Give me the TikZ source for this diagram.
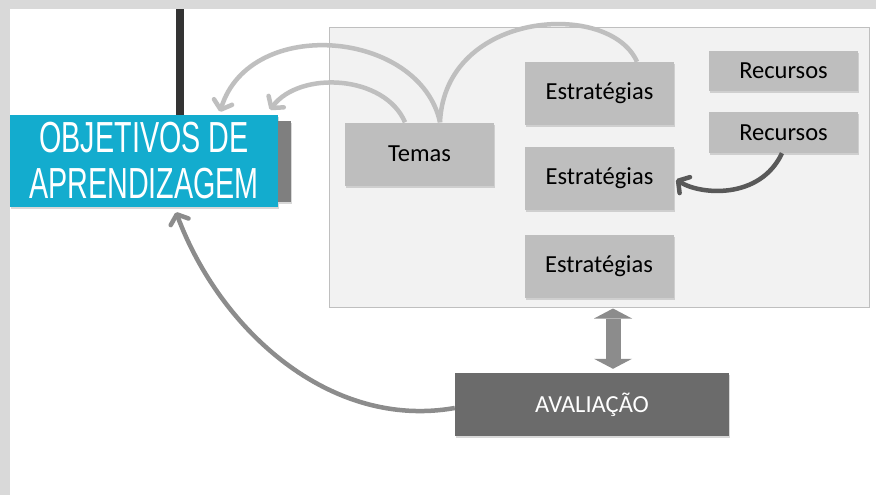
\documentclass[tikz,border=0pt]{standalone}
\usepackage{fontspec}
\setmainfont{Carlito}
\newfontfamily\condfont[FakeStretch=0.66]{Liberation Sans}
\usetikzlibrary{arrows.meta,shadows}
\definecolor{band}{HTML}{D9D9D9}
\definecolor{bar}{HTML}{333333}
\definecolor{objblue}{RGB}{19,172,206}
\definecolor{backgray}{HTML}{7F7F7F}
\definecolor{panelfill}{HTML}{F2F2F2}
\definecolor{boxgray}{HTML}{BEBEBE}
\definecolor{lightlink}{HTML}{BFBFBF}
\definecolor{darklink}{HTML}{595959}
\definecolor{midlink}{HTML}{8C8C8C}
\definecolor{avalgray}{HTML}{6B6B6B}
\begin{document}
\begin{tikzpicture}[x=1pt,y=-1pt,
	shade/.style={drop shadow={opacity=0.3,shadow xshift=1pt,shadow yshift=-2pt}},
	box/.style={shade,fill=boxgray,minimum width=149pt,minimum height=63pt,inner sep=0pt,font=\fontsize{24.5}{28}\selectfont},
	link/.style={line width=4.5pt,lightlink},
	tip/.style={-{Straight Barb[length=8pt,width=19pt,round]}}]
	\useasboundingbox (0,0) rectangle (876,495);
	\fill[white] (0,0) rectangle (876,495);
	\fill[band] (0,0) rectangle (876,9);
	\fill[band] (0,0) rectangle (10,495);
	\fill[bar] (176,9) rectangle (184,120);
	\node[shade,fill=backgray,minimum width=13pt,minimum height=81pt,inner sep=0pt] (0) at (284.5,161.5) {};
	\node[shade,fill=objblue,text=white,minimum width=268pt,minimum height=92pt,inner sep=0pt,align=center,font=\condfont\fontsize{43.5}{46}\selectfont] (1) at (144,161) {OBJETIVOS DE\\APRENDIZAGEM};
	\node[fill=panelfill,draw=lightlink,line width=1pt,minimum width=540pt,minimum height=279pt] (2) at (599,167.5) {};
	\node[box] (3) at (419.5,154) {Temas};
	\node[box] (4) at (599.5,93.5) {Estratégias};
	\node[box] (5) at (599.5,178.5) {Estratégias};
	\node[box] (6) at (599,266.5) {Estratégias};
	\node[box,minimum height=40pt] (7) at (783.5,71) {Recursos};
	\node[box,minimum height=41pt] (8) at (783.5,132.5) {Recursos};
	\node[box,fill=avalgray,text=white,minimum width=274pt] (9) at (592,404.5) {AVALIAÇÃO};
	\draw[link] ([xshift=37.5pt]4.north) .. controls (610,0) and (445,10) .. ([xshift=20.5pt]3.north);
	\draw[link,tip] ([xshift=20.5pt]3.north) .. controls (420,30) and (250,15) .. ([xshift=76pt,yshift=3pt]1.north);
	\draw[link,tip] ([xshift=-14.5pt]3.north) .. controls (385,75) and (300,70) .. ([xshift=126pt,yshift=5pt]1.north);
	\draw[link,darklink,tip] ([xshift=-1.5pt]8.south) .. controls (760,200) and (700,195) .. ([xshift=2pt,yshift=-1pt]5.east);
	\draw[link,midlink,tip] ([yshift=-3.5pt]9.west) .. controls (330,430) and (220,330) .. ([xshift=32pt,yshift=-5pt]1.south);
	\draw[line width=15pt,midlink,{Triangle[length=10pt,width=38pt,line width=0pt]}-{Triangle[length=10pt,width=38pt,line width=0pt]},shorten <=1pt,shorten >=4pt] ([xshift=14pt]2.south) -- ([xshift=21pt]9.north);
\end{tikzpicture}
\end{document}
